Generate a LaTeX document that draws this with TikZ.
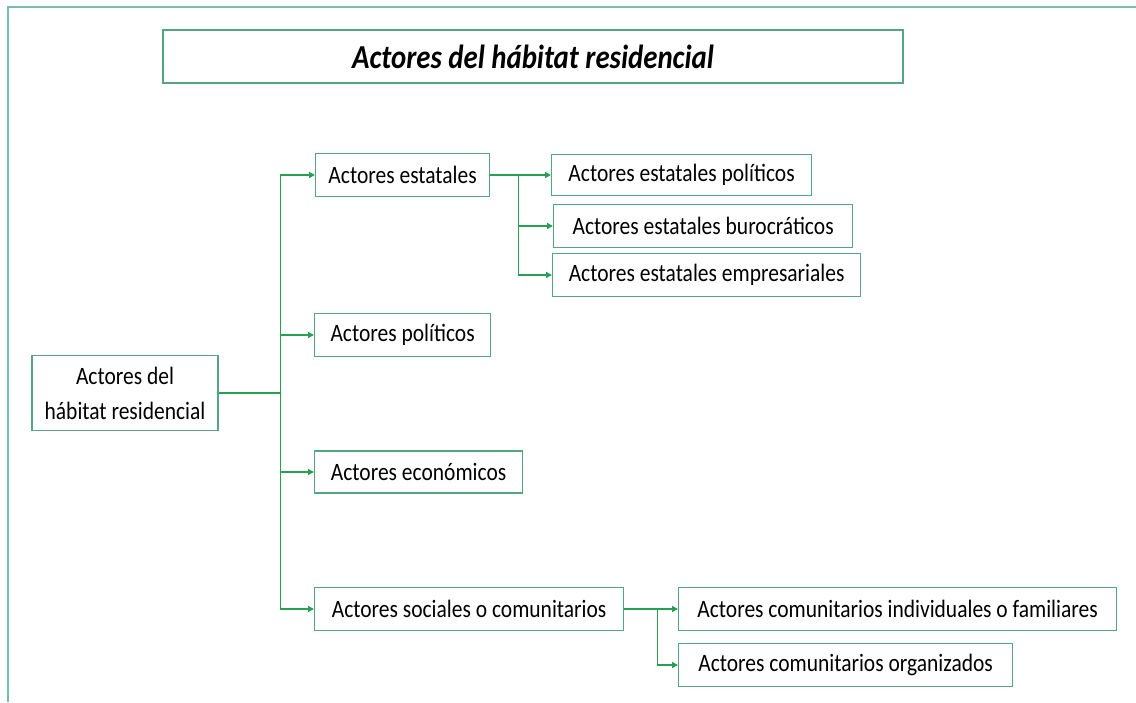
\documentclass[tikz,border=0pt]{standalone}
\usepackage{fontspec}
\setmainfont{Carlito}[FakeStretch=0.86]
\usetikzlibrary{arrows.meta}
\definecolor{boxgreen}{RGB}{84,165,132}
\definecolor{arrowgreen}{RGB}{38,160,82}
\definecolor{framegreen}{RGB}{120,190,165}
\begin{document}
\begin{tikzpicture}[x=1pt,y=-1pt,
        actor/.style={draw=boxgreen,line width=1.2pt,rectangle,anchor=west,
            minimum height=43pt,inner xsep=10pt,
            font=\fontsize{25}{30}\selectfont},
        link/.style={draw=arrowgreen,line width=1.4pt,
            -{Triangle[length=6pt,width=6pt]}}]
    \useasboundingbox (0,0) rectangle (1136,702);
    \draw[framegreen,line width=1.5pt] (8,702) -- (8,7) -- (1136,7);

    \node[draw=boxgreen,line width=1.2pt,minimum width=740pt,minimum height=53pt,
        font=\fontsize{33.5}{40}\selectfont\bfseries\itshape] (title) at (533,56.5)
        {Actores del hábitat residencial};

    \node[draw=boxgreen,line width=1.2pt,minimum width=186pt,minimum height=75pt,
        align=center,font=\fontsize{25}{35}\selectfont] (root) at (125,393)
        {Actores del\\hábitat residencial};

    \node[actor,minimum width=174pt] (estatales) at (315,175) {Actores estatales};
    \node[actor,minimum width=176pt] (politicos) at (314,335) {Actores políticos};
    \node[actor,minimum width=208pt,minimum height=42pt] (economicos) at (314,472) {Actores económicos};
    \node[actor,minimum width=309pt] (sociales) at (314,609) {Actores sociales o comunitarios};

    \node[actor,minimum width=260pt,minimum height=41pt] (estpol) at (551,175) {Actores estatales políticos};
    \node[actor,minimum width=299pt] (estbur) at (553,226) {Actores estatales burocráticos};
    \node[actor,minimum width=308pt] (estemp) at (552,275) {Actores estatales empresariales};

    \node[actor,minimum width=438pt] (comind) at (678,609) {Actores comunitarios individuales o familiares};
    \node[actor,minimum width=334pt] (comorg) at (678,665) {Actores comunitarios organizados};

    \draw[link] (root.east) -- ++(62,0) |- (estatales.west);
    \draw[link] (root.east) -- ++(62,0) |- (politicos.west);
    \draw[link] (root.east) -- ++(62,0) |- (economicos.west);
    \draw[link] (root.east) -- ++(62,0) |- (sociales.west);

    \draw[link] (estatales.east) -- ++(28,0) |- (estpol.west);
    \draw[link] (estatales.east) -- ++(28,0) |- (estbur.west);
    \draw[link] (estatales.east) -- ++(28,0) |- (estemp.west);

    \draw[link] (sociales.east) -- ++(33,0) |- (comind.west);
    \draw[link] (sociales.east) -- ++(33,0) |- (comorg.west);
\end{tikzpicture}
\end{document}
